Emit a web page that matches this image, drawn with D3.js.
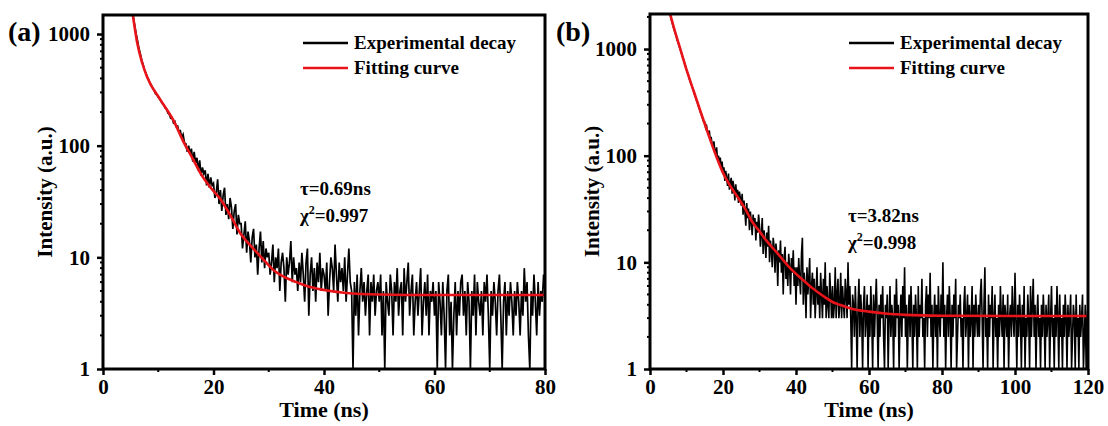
<!DOCTYPE html>
<html>
<head>
<meta charset="utf-8">
<script src="https://cdn.jsdelivr.net/npm/d3@7"></script>
<style>
  body { margin: 0; background: #fff; }
  text { font-family: "Liberation Serif", "Times New Roman", serif; font-weight: bold; fill: #000; }
</style>
</head>
<body>
<svg id="chart" width="1108" height="426"></svg>
<script>
// panel (a): channel start / width in ns, counts per channel (one row = 5 ns)
const startA = 5, stepA = 0.25
const decayA = [
    1900, 1650, 1400, 1190, 1000, 870, 745, 665, 585, 535, 478, 448, 412, 392, 362, 348, 326, 312, 292, 285,
    272, 262, 250, 238, 232, 218, 212, 196, 190, 176, 178, 160, 165, 148, 150, 134, 136, 118, 126, 106,
    104, 88, 100, 84, 94, 72, 88, 70, 78, 60, 74, 54, 64, 56, 60, 44, 56, 42, 52, 44,
    46, 34, 38, 50, 30, 40, 26, 36, 42, 24, 30, 22, 34, 28, 18, 26, 30, 16, 24, 20,
    20, 12, 16, 21, 11, 17, 14, 9, 15, 18, 10, 13, 7, 12, 17, 9, 14, 8, 12, 10,
    11, 7, 9, 13, 6, 10, 8, 12, 5, 9, 11, 8, 4, 10, 7, 9, 14, 6, 10, 7,
    8, 5, 9, 6, 11, 7, 4, 9, 12, 3, 7, 10, 5, 8, 4, 9, 6, 11, 5, 8,
    7, 5, 9, 3, 6, 10, 8, 5, 13, 7, 4, 9, 6, 8, 5, 10, 4, 7, 12, 6,
    5, 1, 6, 3, 7, 2, 5, 8, 4, 6, 3, 5, 7, 2, 6, 4, 7, 3, 5, 6,
    4, 7, 2, 5, 1, 6, 4, 3, 7, 5, 2, 6, 4, 8, 3, 5, 6, 2, 8, 4,
    6, 9, 3, 5, 7, 2, 4, 6, 3, 5, 8, 2, 4, 6, 3, 7, 2, 5, 4, 6,
    3, 5, 1, 6, 4, 2, 6, 3, 1, 5, 7, 2, 4, 1, 3, 6, 2, 5, 3, 6,
    7, 3, 5, 2, 6, 4, 1, 5, 3, 7, 2, 6, 4, 3, 5, 2, 6, 4, 7, 3,
    1, 5, 3, 6, 4, 2, 5, 7, 3, 1, 4, 6, 2, 5, 3, 6, 4, 2, 5, 3,
    6, 4, 2, 5, 3, 8, 4, 6, 2, 1, 5, 3, 7, 4, 2, 6, 3, 5, 4, 7,
    5
]
const fitTimeA = [5.4, 6.2, 7.1, 8, 10.4, 12.7, 14.5, 16.4, 17.6, 19.5, 21.3, 23, 25, 27, 29, 31, 33, 35, 37, 40, 44, 50, 60, 80]
const fitA = [1480, 830, 550, 410, 257, 170, 110, 74, 57, 42, 33, 24, 16, 12.3, 9.6, 7.6, 6.6, 6.0, 5.5, 5.1, 4.8, 4.65, 4.6, 4.6]

// panel (b): one row = 5 ns
const startB = 5, stepB = 0.25
const decayB = [
    2800, 2500, 2150, 1950, 1800, 1680, 1560, 1470, 1380, 1290, 1200, 1130, 1060, 1000, 945, 880, 830, 785, 735, 690,
    640, 605, 575, 530, 500, 470, 448, 420, 398, 372, 352, 330, 315, 292, 278, 258, 250, 232, 220, 205,
    206, 182, 190, 168, 160, 172, 140, 150, 130, 118, 136, 112, 104, 120, 92, 100, 86, 96, 76, 88,
    70, 78, 58, 72, 62, 52, 68, 48, 56, 62, 44, 58, 50, 38, 54, 42, 48, 36, 46, 40,
    34, 44, 28, 38, 30, 22, 36, 26, 32, 20, 30, 24, 18, 28, 22, 26, 16, 24, 19, 28,
    22, 14, 18, 26, 12, 20, 16, 11, 19, 14, 22, 10, 16, 13, 9, 17, 14, 8, 15, 12,
    6, 13, 10, 16, 8, 12, 5, 11, 14, 7, 10, 6, 12, 9, 5, 11, 8, 13, 6, 9,
    4, 9, 6, 11, 7, 5, 12, 17, 4, 8, 6, 3, 9, 5, 7, 11, 3, 6, 8, 4,
    7, 3, 5, 9, 4, 6, 3, 8, 5, 3, 7, 4, 10, 3, 6, 4, 3, 8, 5, 3,
    6, 3, 4, 9, 3, 5, 7, 3, 4, 8, 3, 6, 4, 3, 7, 5, 3, 10, 4, 6,
    3, 1, 5, 4, 2, 6, 3, 1, 4, 7, 2, 5, 3, 1, 4, 6, 2, 3, 5, 1,
    4, 2, 6, 3, 1, 5, 2, 4, 7, 3, 1, 4, 2, 5, 3, 6, 2, 1, 4, 3,
    5, 1, 3, 6, 2, 4, 3, 1, 5, 2, 7, 3, 4, 1, 3, 5, 2, 6, 3, 9,
    2, 4, 1, 3, 5, 2, 6, 3, 1, 4, 2, 5, 3, 1, 6, 2, 4, 3, 7, 2,
    3, 1, 4, 6, 2, 5, 3, 8, 2, 4, 1, 3, 5, 2, 4, 1, 6, 3, 2, 5,
    3, 10, 2, 4, 1, 3, 5, 2, 6, 3, 1, 4, 2, 5, 3, 7, 1, 2, 4, 3,
    5, 2, 3, 1, 4, 6, 2, 3, 5, 1, 4, 2, 3, 6, 1, 4, 2, 5, 3, 2,
    4, 2, 5, 7, 3, 1, 4, 9, 2, 3, 1, 5, 2, 4, 3, 6, 1, 3, 5, 2,
    3, 1, 4, 2, 6, 3, 2, 5, 1, 4, 3, 2, 5, 1, 3, 4, 2, 6, 3, 2,
    8, 3, 1, 4, 2, 5, 3, 1, 4, 2, 6, 1, 3, 2, 5, 3, 1, 6, 2, 4,
    7, 2, 4, 1, 3, 5, 2, 3, 1, 4, 2, 5, 3, 1, 4, 2, 3, 5, 1, 3,
    6, 2, 3, 1, 4, 2, 6, 3, 1, 5, 2, 3, 1, 4, 2, 5, 3, 1, 4, 2,
    3, 5, 1, 2, 4, 3, 1, 5, 2, 3, 1, 4, 2, 3, 5, 1, 2, 4, 1, 3,
    4
]
const fitTimeB = [5.5, 7, 8.5, 10, 12, 14, 16, 18, 20, 22, 24, 26, 28, 30, 32, 34, 36, 38, 40, 42, 44, 46, 48, 50, 52, 55, 60, 65, 70, 80, 100, 120]
const fitB = [2140, 1400, 950, 640, 400, 250, 158, 102, 69, 52, 41, 32, 24, 19.5, 15.8, 13.2, 11, 9.1, 7.8, 6.8, 5.9, 5.25, 4.7, 4.25, 4.0, 3.7, 3.45, 3.3, 3.22, 3.16, 3.14, 3.14]

const yTicks = [1, 10, 100, 1000]
const xTicksA = [0, 20, 40, 60, 80]
const xTicksB = [0, 20, 40, 60, 80, 100, 120]
const legendLabels = ["Experimental decay", "Fitting curve"]
const legendColors = ["#000", "#e8141a"]

const svg = d3.select("#chart")

function drawPanel(p) {
    const x = d3.scaleLinear().domain([0, p.xMax]).range([p.left, p.right])
    const y = d3.scaleLog().domain([1, p.yMax]).range([p.bottom, p.top])

    const clipId = "clip" + p.id
    svg.append("clipPath").attr("id", clipId)
        .append("rect")
        .attr("x", p.left).attr("y", p.top)
        .attr("width", p.right - p.left).attr("height", p.bottom - p.top)

    const decay = p.decay.map((v, i) => [p.start + i * p.step, v])
    const fit = p.fitTime.map((t, i) => [t, p.fit[i]])

    const g = svg.append("g").attr("clip-path", "url(#" + clipId + ")")
    g.append("path")
        .datum(decay)
        .attr("fill", "none")
        .attr("stroke", "#000")
        .attr("stroke-width", p.decayWidth)
        .attr("d", d3.line().x(d => x(d[0])).y(d => y(d[1])))
    g.append("path")
        .datum(fit)
        .attr("fill", "none")
        .attr("stroke", legendColors[1])
        .attr("stroke-width", 2.6)
        .attr("d", d3.line().curve(d3.curveMonotoneX).x(d => x(d[0])).y(d => y(d[1])))

    // minor ticks
    let minorY = []
    yTicks.forEach(t => { for (let k = 2; k <= 9; k++) if (t * k < p.yMax) minorY.push(t * k) })
    svg.append("g").selectAll("line").data(minorY).enter().append("line")
        .attr("x1", p.left - 3).attr("x2", p.left)
        .attr("y1", d => y(d)).attr("y2", d => y(d))
        .attr("stroke", "#000").attr("stroke-width", 2)
    const minorX = d3.range(10, p.xMax, 20)
    svg.append("g").selectAll("line").data(minorX).enter().append("line")
        .attr("x1", d => x(d)).attr("x2", d => x(d))
        .attr("y1", p.bottom).attr("y2", p.bottom + 3)
        .attr("stroke", "#000").attr("stroke-width", 2)

    // axes
    const yAxis = svg.append("g")
        .attr("transform", "translate(" + p.left + ",0)")
        .call(d3.axisLeft(y).tickValues(yTicks).tickFormat(d3.format("d")).tickSize(6).tickPadding(7))
    const xAxis = svg.append("g")
        .attr("transform", "translate(0," + p.bottom + ")")
        .call(d3.axisBottom(x).tickValues(p.xTicks).tickSize(6).tickPadding(4))
    ;[yAxis, xAxis].forEach(a => {
        a.select(".domain").remove()
        a.selectAll("line").attr("stroke-width", 2.5)
        a.selectAll("text").style("font-size", "21px")
    })

    // frame
    svg.append("rect")
        .attr("x", p.left).attr("y", p.top)
        .attr("width", p.right - p.left).attr("height", p.bottom - p.top)
        .attr("fill", "none").attr("stroke", "#000").attr("stroke-width", 3)

    // titles
    svg.append("text")
        .attr("x", (p.left + p.right) / 2).attr("y", 417)
        .attr("text-anchor", "middle").style("font-size", "22px")
        .text("Time (ns)")
    svg.append("text")
        .attr("transform", "translate(" + p.yTitleX + "," + (p.top + p.bottom) / 2 + ") rotate(-90)")
        .attr("text-anchor", "middle").attr("dy", "0.35em").style("font-size", "21px")
        .text("Intensity (a.u.)")
    svg.append("text")
        .attr("x", p.tagX).attr("y", 41)
        .style("font-size", "28px")
        .text(p.tag)

    // legend
    legendLabels.forEach((lab, i) => {
        const ly = p.legendY + i * 25
        svg.append("line")
            .attr("x1", p.legendX).attr("x2", p.legendX + 45)
            .attr("y1", ly).attr("y2", ly)
            .attr("stroke", legendColors[i]).attr("stroke-width", 2.5)
        svg.append("text")
            .attr("x", p.legendX + 51).attr("y", ly).attr("dy", "0.33em")
            .style("font-size", "19px")
            .text(lab)
    })

    // annotation
    svg.append("text")
        .attr("x", p.noteX).attr("y", p.noteY)
        .style("font-size", "19px")
        .text("τ=" + p.tau)
    const chi = svg.append("text")
        .attr("x", p.noteX).attr("y", p.noteY + 27)
        .style("font-size", "19px")
    chi.append("tspan").text("χ")
    chi.append("tspan").attr("dy", -8).style("font-size", "12px").text("2")
    chi.append("tspan").attr("dy", 8).text("=" + p.chi2)
}

drawPanel({
    id: "a", left: 103, right: 545, top: 15, bottom: 369,
    xMax: 80, yMax: 1480, xTicks: xTicksA,
    start: startA, step: stepA, decay: decayA, fitTime: fitTimeA, fit: fitA, decayWidth: 1.7,
    yTitleX: 45, tag: "(a)", tagX: 8,
    legendX: 303, legendY: 43, noteX: 300, noteY: 195,
    tau: "0.69ns", chi2: "0.997"
})
drawPanel({
    id: "b", left: 650, right: 1088, top: 14, bottom: 369,
    xMax: 120, yMax: 2130, xTicks: xTicksB,
    start: startB, step: stepB, decay: decayB, fitTime: fitTimeB, fit: fitB, decayWidth: 1.6,
    yTitleX: 592, tag: "(b)", tagX: 556,
    legendX: 849, legendY: 43, noteX: 848, noteY: 222,
    tau: "3.82ns", chi2: "0.998"
})
</script>
</body>
</html>
